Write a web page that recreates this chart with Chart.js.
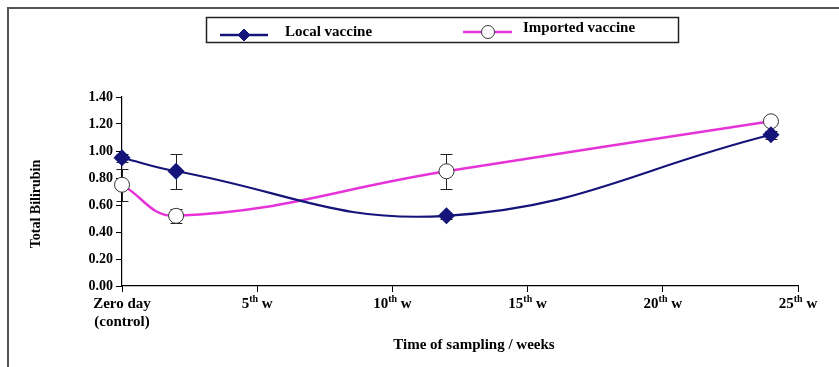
<!DOCTYPE html>
<html>
<head>
<meta charset="utf-8">
<script src="https://cdn.jsdelivr.net/npm/chart.js@4.4.1/dist/chart.umd.min.js"></script>
<style>
  html, body { margin: 0; padding: 0; background: #fff; }
  #wrap { position: relative; width: 839px; height: 367px; overflow: hidden; }
  #frame { position: absolute; left: 7px; top: 7px; width: 900px; height: 400px; border: 2px solid #555; box-sizing: border-box; }
  canvas { position: absolute; left: 0; top: 0; }
</style>
</head>
<body>
<div id="wrap">
  <div id="frame"></div>
  <canvas id="chart" width="839" height="367"></canvas>
</div>
<script>
// sampling time in weeks
const weeks = [0, 2, 12, 24];
const localVaccine = [0.95, 0.85, 0.52, 1.12];
const localErr = [0.03, 0.13, 0.02, 0.03];
const importedVaccine = [0.75, 0.52, 0.85, 1.22];
const importedErr = [0.12, 0.05, 0.13, 0.02];

const xTicks = [0, 5, 10, 15, 20, 25];
const xTickLabels = ['Zero day', '5th w', '10th w', '15th w', '20th w', '25th w'];
const xTickSubLabels = ['(control)', '', '', '', '', ''];

const FONT = "'Liberation Serif', 'Times New Roman', serif";
const NAVY = '#14147a';
const PINK = '#e633d9';

// error bars drawn under the markers
const errorBars = {
    id: 'errorBars',
    beforeDatasetsDraw(chart) {
        const { ctx, scales: { x, y } } = chart;
        const sets = [[localVaccine, localErr], [importedVaccine, importedErr]];
        ctx.save();
        ctx.strokeStyle = '#222';
        ctx.lineWidth = 1;
        sets.forEach(([vals, errs]) => {
            weeks.forEach((w, i) => {
                const px = Math.round(x.getPixelForValue(w)) + 0.5;
                const top = Math.round(y.getPixelForValue(vals[i] + errs[i])) + 0.5;
                const bot = Math.round(y.getPixelForValue(vals[i] - errs[i])) + 0.5;
                ctx.beginPath();
                ctx.moveTo(px, top); ctx.lineTo(px, bot);
                ctx.moveTo(px - 6, top); ctx.lineTo(px + 6, top);
                ctx.moveTo(px - 6, bot); ctx.lineTo(px + 6, bot);
                ctx.stroke();
            });
        });
        ctx.restore();
    }
};

// x tick labels with superscript "th", plus the two axis titles
const axisText = {
    id: 'axisText',
    afterDraw(chart) {
        const { ctx, scales: { x, y } } = chart;
        const yTop = x.top + 18;
        ctx.save();
        ctx.fillStyle = '#000';
        ctx.textBaseline = 'middle';
        ctx.textAlign = 'left';
        xTicks.forEach((t, i) => {
            const px = x.getPixelForValue(t);
            const m = xTickLabels[i].match(/^(\d+)(th)(.*)$/);
            const parts = m ? [[m[1], 15, 0], [m[2], 10, -5], [m[3], 15, 0]] : [[xTickLabels[i], 15, 0]];
            let total = 0;
            parts.forEach(p => { ctx.font = 'bold ' + p[1] + 'px ' + FONT; total += ctx.measureText(p[0]).width; });
            let cx = px - total / 2;
            parts.forEach(p => {
                ctx.font = 'bold ' + p[1] + 'px ' + FONT;
                ctx.fillText(p[0], cx, yTop + p[2]);
                cx += ctx.measureText(p[0]).width;
            });
            if (xTickSubLabels[i]) {
                ctx.font = 'bold 15px ' + FONT;
                ctx.textAlign = 'center';
                ctx.fillText(xTickSubLabels[i], px, yTop + 18);
                ctx.textAlign = 'left';
            }
        });

        ctx.textAlign = 'center';
        ctx.font = 'bold 15px ' + FONT;
        ctx.fillText('Time of sampling / weeks', 474, 345);

        ctx.translate(36, 204);
        ctx.rotate(-Math.PI / 2);
        ctx.font = 'bold 14px ' + FONT;
        ctx.fillText('Total Bilirubin', 0, 0);
        ctx.restore();
    }
};

// boxed legend at the top
const boxLegend = {
    id: 'boxLegend',
    afterDraw(chart) {
        const ctx = chart.ctx;
        ctx.save();
        ctx.strokeStyle = '#222';
        ctx.lineWidth = 1.5;
        ctx.strokeRect(206.5, 17.5, 472, 25);

        ctx.lineWidth = 2.5;
        ctx.strokeStyle = NAVY;
        ctx.beginPath(); ctx.moveTo(220, 35); ctx.lineTo(268, 35); ctx.stroke();
        ctx.fillStyle = NAVY;
        ctx.lineWidth = 1;
        Chart.helpers.drawPoint(ctx, { pointStyle: 'rectRot', radius: 6, rotation: 0, borderWidth: 1 }, 244, 35);

        ctx.lineWidth = 2.5;
        ctx.strokeStyle = PINK;
        ctx.beginPath(); ctx.moveTo(463, 32); ctx.lineTo(512, 32); ctx.stroke();
        ctx.fillStyle = '#fff';
        ctx.strokeStyle = '#333';
        ctx.lineWidth = 1;
        Chart.helpers.drawPoint(ctx, { pointStyle: 'circle', radius: 6.5, rotation: 0, borderWidth: 1 }, 488, 32);

        ctx.fillStyle = '#000';
        ctx.font = 'bold 15px ' + FONT;
        ctx.textBaseline = 'middle';
        ctx.fillText('Local vaccine', 285, 32);
        ctx.fillText('Imported vaccine', 523, 28);
        ctx.restore();
    }
};

const data = {
    datasets: [
        {
            label: 'Local vaccine',
            data: weeks.map((w, i) => ({ x: w, y: localVaccine[i] })),
            borderColor: NAVY,
            backgroundColor: NAVY,
            borderWidth: 2.2,
            tension: 0.42,
            pointStyle: 'rectRot',
            pointRadius: 7,
            pointBackgroundColor: NAVY,
            pointBorderColor: NAVY,
            clip: false
        },
        {
            label: 'Imported vaccine',
            data: weeks.map((w, i) => ({ x: w, y: importedVaccine[i] })),
            borderColor: PINK,
            backgroundColor: '#fff',
            borderWidth: 2.5,
            tension: 0.42,
            pointStyle: 'circle',
            pointRadius: 7.5,
            pointBackgroundColor: '#fff',
            pointBorderColor: '#333',
            pointBorderWidth: 1,
            clip: false
        }
    ]
};

const config = {
    type: 'line',
    data: data,
    options: {
        responsive: false,
        animation: false,
        layout: { padding: { top: 97, right: 41, left: 0, bottom: 0 } },
        plugins: {
            legend: { display: false },
            tooltip: { enabled: false }
        },
        scales: {
            x: {
                type: 'linear',
                min: 0,
                max: 25,
                afterBuildTicks: (scale) => { scale.ticks = xTicks.map(v => ({ value: v })); },
                afterFit: (scale) => { scale.height = 81; },
                ticks: { display: false },
                grid: { drawOnChartArea: false, tickLength: 6, color: '#000' },
                border: { color: '#000', width: 1.2 }
            },
            y: {
                min: 0,
                max: 1.4,
                afterFit: (scale) => { scale.width = 122; },
                ticks: {
                    stepSize: 0.2,
                    color: '#000',
                    padding: 3,
                    font: { family: FONT, size: 14, weight: 'bold' },
                    callback: (v) => v.toFixed(2)
                },
                grid: { drawOnChartArea: false, tickLength: 6, color: '#000' },
                border: { color: '#000', width: 1.2 }
            }
        }
    },
    plugins: [errorBars, axisText, boxLegend]
};

new Chart(document.getElementById('chart'), config);
</script>
</body>
</html>
